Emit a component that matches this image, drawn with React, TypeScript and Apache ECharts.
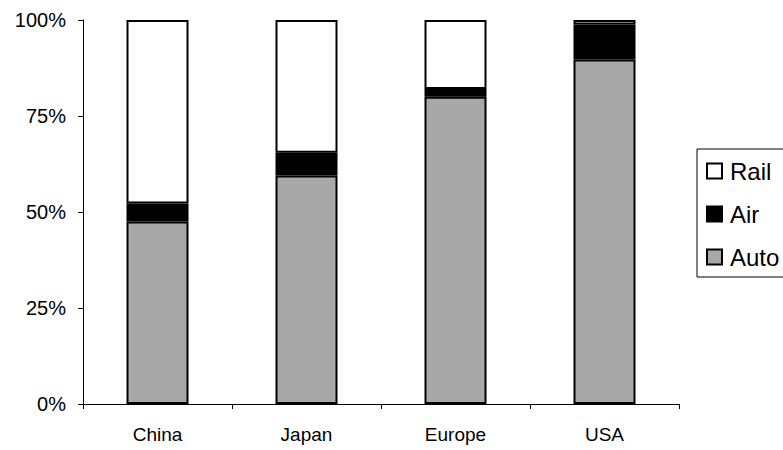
import React, { useEffect, useRef } from "react";
import * as echarts from "echarts";

const categories = ["China", "Japan", "Europe", "USA"];
const autoShare = [47.5, 59.5, 80, 89.7];
const airShare = [4.7, 5.9, 2, 9.1];
const railShare = [47.8, 34.6, 18, 1.2];
const yTicks = [0, 25, 50, 75, 100];

export default function App() {
  const ref = useRef<HTMLDivElement>(null);
  useEffect(() => {
    const chart = echarts.init(ref.current!, null, { renderer: "svg" });
    const font = "Liberation Sans, Arial, sans-serif";
    chart.setOption({
      animation: false,
      backgroundColor: "#ffffff",
      grid: { left: 83, right: 104, top: 20, bottom: 46, containLabel: false },
      legend: {
        orient: "vertical",
        left: 697,
        top: 149,
        data: ["Rail", "Air", "Auto"],
        borderColor: "#000",
        borderWidth: 1,
        borderRadius: 0,
        padding: [10, 40, 8, 9],
        itemWidth: 15,
        itemHeight: 15,
        itemGap: 19,
        icon: "rect",
        textStyle: { fontFamily: font, fontSize: 24, color: "#000", padding: [0, 0, 0, 3] },
      },
      xAxis: {
        type: "category",
        data: categories,
        axisLine: { lineStyle: { color: "#000", width: 1 } },
        axisTick: { show: true, length: 5, lineStyle: { color: "#000" } },
        axisLabel: { fontFamily: font, fontSize: 19, color: "#000", margin: 21 },
      },
      yAxis: {
        type: "value",
        min: yTicks[0],
        max: yTicks[yTicks.length - 1],
        interval: 25,
        axisLine: { show: true, lineStyle: { color: "#000", width: 1 } },
        axisTick: { show: true, length: 5, lineStyle: { color: "#000" } },
        splitLine: { show: false },
        axisLabel: { fontFamily: font, fontSize: 20, color: "#000", margin: 17, formatter: "{value}%" },
      },
      series: [
        {
          name: "Auto",
          type: "bar",
          stack: "t",
          barWidth: 62,
          data: autoShare,
          itemStyle: { color: "#a8a8a8", borderColor: "#000", borderWidth: 2 },
        },
        {
          name: "Air",
          type: "bar",
          stack: "t",
          data: airShare,
          itemStyle: { color: "#000", borderColor: "#000", borderWidth: 2 },
        },
        {
          name: "Rail",
          type: "bar",
          stack: "t",
          data: railShare,
          itemStyle: { color: "#fff", borderColor: "#000", borderWidth: 2 },
        },
      ],
    });
    return () => chart.dispose();
  }, []);
  return (
    <div
      ref={ref}
      style={{ position: "absolute", left: 0, top: 0, width: 783, height: 450 }}
    />
  );
}
